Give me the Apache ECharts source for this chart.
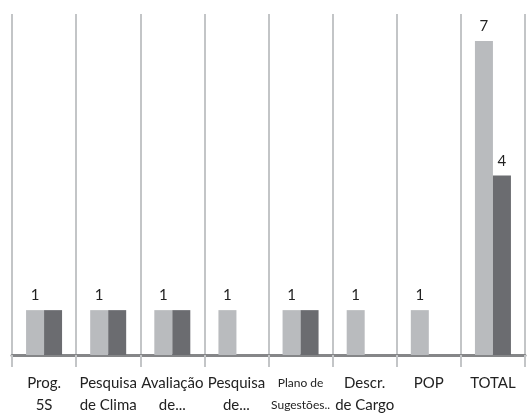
<!DOCTYPE html>
<html>
<head>
<meta charset="utf-8">
<script src="https://cdn.jsdelivr.net/npm/echarts@6/dist/echarts.min.js"></script>
<style>
    html, body { margin: 0; padding: 0; background: #fff; }
    #chart { width: 530px; height: 416px; }
</style>
</head>
<body>
<div id="chart"></div>
<script>
var categories = ["Prog.\n5S", "Pesquisa\nde Clima", "Avaliação\nde...", "Pesquisa\nde...",
    "Plano de\nSugestões..", "Descr.\nde Cargo", "POP", "TOTAL"];
var lightValues = [1, 1, 1, 1, 1, 1, 1, 7];
var darkValues = [1, 1, 1, null, 1, null, null, 4];
// only the TOTAL dark bar shows its label
var darkLabelShown = [false, false, false, false, false, false, false, true];

var chart = echarts.init(document.getElementById("chart"));

var darkData = darkValues.map(function (v, i) {
    return {value: v, label: {show: darkLabelShown[i]}};
});

chart.setOption({
    animation: false,
    grid: {left: 12, right: 5, top: 14, bottom: 61},
    xAxis: {
        type: 'category',
        data: categories,
        axisLine: {lineStyle: {color: '#858688', width: 3}},
        axisTick: {show: true, length: 12, lineStyle: {color: '#c3c5c7', width: 2}},
        splitLine: {show: true, lineStyle: {color: '#c3c5c7', width: 2}},
        axisLabel: {
            color: '#222',
            fontFamily: 'Lato',
            fontSize: 15,
            lineHeight: 22,
            margin: 17,
            interval: 0,
            formatter: function (v) {
                if (v.indexOf("Sugest") >= 0) return '{s|' + v.replace("\n", "}\n{s|") + '}';
                return v;
            },
            rich: {s: {fontSize: 12, fontFamily: 'Lato', lineHeight: 22, color: '#222'}}
        }
    },
    yAxis: {
        type: 'value',
        min: 0,
        max: 7.6,
        show: false,
        splitLine: {show: false}
    },
    series: [
        {
            name: 'a',
            type: 'bar',
            barWidth: 18,
            barGap: '0%',
            data: lightValues,
            itemStyle: {color: '#b9bbbe'},
            label: {show: true, position: 'top', distance: 7, color: '#222', fontSize: 15, fontFamily: 'Lato'}
        },
        {
            name: 'b',
            type: 'bar',
            barWidth: 18,
            barGap: '0%',
            data: darkData,
            itemStyle: {color: '#6b6c70'},
            label: {position: 'top', distance: 7, color: '#222', fontSize: 15, fontFamily: 'Lato'}
        }
    ]
});
</script>
</body>
</html>
